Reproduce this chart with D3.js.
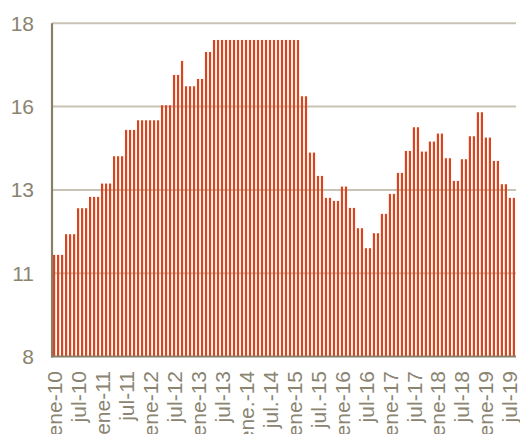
<!DOCTYPE html>
<html>
<head>
<meta charset="utf-8">
<script src="https://cdn.jsdelivr.net/npm/d3@7"></script>
<style>
  html, body { margin: 0; padding: 0; background: #ffffff; }
  svg { display: block; }
  text { font-family: "Liberation Sans", Arial, sans-serif; }
</style>
</head>
<body>
<svg id="chart" width="520" height="434"></svg>
<script>
// Monthly categories, January 2010 to August 2019
const months = [
  "2010-01","2010-02","2010-03","2010-04","2010-05","2010-06","2010-07","2010-08","2010-09","2010-10","2010-11","2010-12",
  "2011-01","2011-02","2011-03","2011-04","2011-05","2011-06","2011-07","2011-08","2011-09","2011-10","2011-11","2011-12",
  "2012-01","2012-02","2012-03","2012-04","2012-05","2012-06","2012-07","2012-08","2012-09","2012-10","2012-11","2012-12",
  "2013-01","2013-02","2013-03","2013-04","2013-05","2013-06","2013-07","2013-08","2013-09","2013-10","2013-11","2013-12",
  "2014-01","2014-02","2014-03","2014-04","2014-05","2014-06","2014-07","2014-08","2014-09","2014-10","2014-11","2014-12",
  "2015-01","2015-02","2015-03","2015-04","2015-05","2015-06","2015-07","2015-08","2015-09","2015-10","2015-11","2015-12",
  "2016-01","2016-02","2016-03","2016-04","2016-05","2016-06","2016-07","2016-08","2016-09","2016-10","2016-11","2016-12",
  "2017-01","2017-02","2017-03","2017-04","2017-05","2017-06","2017-07","2017-08","2017-09","2017-10","2017-11","2017-12",
  "2018-01","2018-02","2018-03","2018-04","2018-05","2018-06","2018-07","2018-08","2018-09","2018-10","2018-11","2018-12",
  "2019-01","2019-02","2019-03","2019-04","2019-05","2019-06","2019-07","2019-08"
];

// Monthly rate (%)
const rate = [
  11.05,11.05,11.05,11.67,11.67,11.67,12.45,12.45,12.45,12.79,12.79,12.79,
  13.19,13.19,13.19,14.01,14.01,14.01,14.80,14.80,14.80,15.09,15.09,15.09,
  15.09,15.09,15.09,15.54,15.54,15.54,16.45,16.45,16.87,16.11,16.11,16.11,
  16.33,16.33,17.14,17.14,17.50,17.50,17.50,17.50,17.50,17.50,17.50,17.50,
  17.50,17.50,17.50,17.50,17.50,17.50,17.50,17.50,17.50,17.50,17.50,17.50,
  17.50,17.50,15.81,15.81,14.12,14.12,13.42,13.42,12.76,12.76,12.67,12.67,
  13.10,13.10,12.46,12.46,11.85,11.85,11.25,11.25,11.70,11.70,12.28,12.28,
  12.88,12.88,13.51,13.51,14.17,14.17,14.88,14.88,14.15,14.15,14.45,14.45,
  14.69,14.69,13.95,13.95,13.27,13.27,13.92,13.92,14.61,14.61,15.33,15.33,
  14.57,14.57,13.87,13.87,13.17,13.17,12.76,12.76
];

// Horizontal axis labels and the months they sit under
const tickMonths = [
  "2010-01","2010-07","2011-01","2011-07","2012-01","2012-07","2013-01","2013-07","2014-01","2014-07",
  "2015-01","2015-07","2016-01","2016-07","2017-01","2017-07","2018-01","2018-07","2019-01","2019-07"
];
const tickLabels = [
  "ene-10","jul-10","ene-11","jul-11","ene-12","jul-12","ene-13","jul-13","ene.-14","jul.-14",
  "ene-15","jul.-15","ene-16","jul-16","ene-17","jul-17","ene-18","jul-18","ene-19","jul-19"
];

// Vertical axis gridlines and their printed labels
const yTicks = [8, 10.5, 13, 15.5, 18];
const yTickLabels = ["8", "11", "13", "16", "18"];

const svg = d3.select("#chart");

const plotLeft = 52, plotRight = 516, plotTop = 23.3, plotBottom = 356.5;

const x = d3.scaleBand()
  .domain(months)
  .range([plotLeft, plotRight])
  .paddingInner(0.45)
  .paddingOuter(0.25);

const y = d3.scaleLinear()
  .domain([8, 18])
  .range([plotBottom, plotTop]);

// Gridlines
svg.append("g")
  .selectAll("line")
  .data(yTicks.filter(t => t > 8))
  .join("line")
  .attr("x1", plotLeft)
  .attr("x2", plotRight)
  .attr("y1", d => y(d))
  .attr("y2", d => y(d))
  .attr("stroke", "#c8c3b5")
  .attr("stroke-width", 2);

// Bars
svg.append("g")
  .selectAll("rect")
  .data(months.map((m, i) => ({ m, v: rate[i] })))
  .join("rect")
  .attr("x", d => x(d.m))
  .attr("width", x.bandwidth())
  .attr("y", d => y(d.v))
  .attr("height", d => y(8) - y(d.v))
  .attr("fill", "#d8441d");

// Axis lines
svg.append("line")
  .attr("x1", plotLeft).attr("x2", plotLeft)
  .attr("y1", y(18)).attr("y2", plotBottom + 1)
  .attr("stroke", "#878069").attr("stroke-width", 2.2);
svg.append("line")
  .attr("x1", plotLeft - 1).attr("x2", plotRight)
  .attr("y1", plotBottom).attr("y2", plotBottom)
  .attr("stroke", "#878069").attr("stroke-width", 2.2);

// Y labels
svg.append("g")
  .selectAll("text")
  .data(yTicks)
  .join("text")
  .attr("x", 34)
  .attr("y", d => y(d))
  .attr("dy", "0.36em")
  .attr("text-anchor", "end")
  .attr("font-size", 21)
  .attr("fill", "#8a8470")
  .text((d, i) => yTickLabels[i]);

// X labels, rotated to read upward
svg.append("g")
  .selectAll("text")
  .data(tickMonths)
  .join("text")
  .attr("transform", d => `translate(${x(d) + x.bandwidth() / 2},371) rotate(-90)`)
  .attr("dy", "0.36em")
  .attr("text-anchor", "end")
  .attr("font-size", 21)
  .attr("fill", "#8a8470")
  .text((d, i) => tickLabels[i]);
</script>
</body>
</html>
